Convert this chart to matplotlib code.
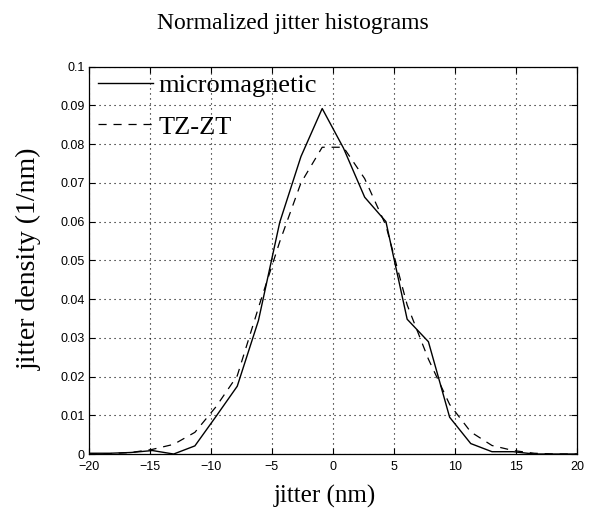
import numpy as np
import matplotlib
matplotlib.use("Agg")
import matplotlib.pyplot as plt

# bin centres (nm) and normalised histogram values
jitter = [-20.0, -18.26, -16.52, -14.78, -13.04, -11.30, -9.57, -7.83, -6.09, -4.35,
          -2.61, -0.87, 0.87, 2.61, 4.35, 6.09, 7.83, 9.57, 11.30, 13.04, 14.78,
          16.52, 18.26, 20.0]
micromagnetic = [0.0002, 0.0002, 0.0004, 0.0009, 0.0, 0.0021, 0.0097, 0.0175, 0.0345, 0.0598,
                 0.0768, 0.0892, 0.0790, 0.0663, 0.0600, 0.0348, 0.0290, 0.0095, 0.0027, 0.0006,
                 0.0006, 0.0, 0.0, 0.0]
tz_zt = [0.0, 0.0001, 0.0004, 0.0012, 0.0025, 0.0056, 0.0122, 0.0202, 0.0378, 0.0548,
         0.0700, 0.0792, 0.0792, 0.0711, 0.0590, 0.0385, 0.0245, 0.0128, 0.0057, 0.0022,
         0.0009, 0.0002, 0.0, 0.0]

xticks = [-20, -15, -10, -5, 0, 5, 10, 15, 20]
yticks = [0, 0.01, 0.02, 0.03, 0.04, 0.05, 0.06, 0.07, 0.08, 0.09, 0.1]
ytick_labels = ['0', '0.01', '0.02', '0.03', '0.04', '0.05', '0.06', '0.07', '0.08', '0.09', '0.1']

serif = ['Liberation Serif', 'DejaVu Serif']
sans = ['Liberation Sans', 'DejaVu Sans']

fig = plt.figure(figsize=(5.94, 5.09), dpi=100)
ax = fig.add_axes([0.1493, 0.108, 0.822, 0.761])

ax.plot(jitter, micromagnetic, color='k', lw=1.0, label='micromagnetic')
ax.plot(jitter, tz_zt, color='k', lw=0.9, linestyle=(0, (6.5, 5.5)), label='TZ-ZT')

ax.set_xlim(-20, 20)
ax.set_ylim(0, 0.1)
ax.set_xticks(xticks)
ax.set_yticks(yticks)
ax.set_yticklabels(ytick_labels)
for lab in ax.get_xticklabels() + ax.get_yticklabels():
    lab.set_family(sans)
    lab.set_fontsize(9)
ax.tick_params(direction='in', length=4, width=0.8, top=True, right=True)
ax.tick_params(axis='x', pad=5)
ax.tick_params(axis='y', pad=3)
ax.grid(True, linestyle=(0, (1, 3.5)), color='k', linewidth=0.8)
for s in ax.spines.values():
    s.set_linewidth(0.9)

ax.set_title('Normalized jitter histograms', family=serif, fontsize=17, x=0.419, pad=27)
ax.set_xlabel('jitter (nm)', family=serif, fontsize=18)
ax.xaxis.set_label_coords(0.484, -0.080)
ax.set_ylabel('jitter density (1/nm)', family=serif, fontsize=20)
ax.yaxis.set_label_coords(-0.0956, 0.503)

leg = ax.legend(loc='upper left', bbox_to_anchor=(0.019, 0.982), frameon=False,
                prop={'family': serif, 'size': 19}, handlelength=2.1, handletextpad=0.2,
                labelspacing=0.68, borderpad=0, borderaxespad=0)

fig.savefig('out.png', dpi=100)
